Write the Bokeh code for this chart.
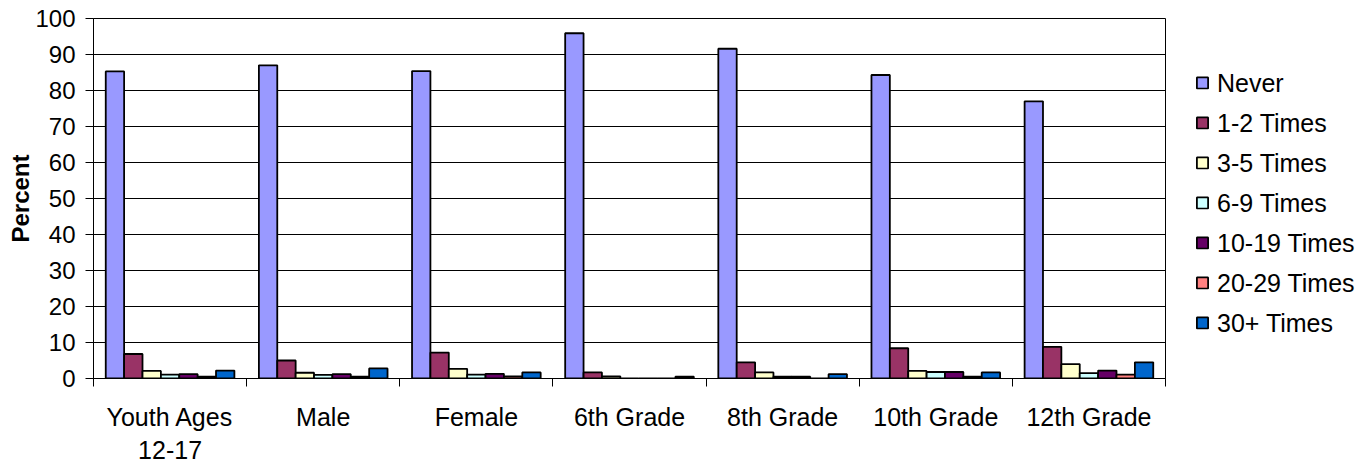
from bokeh.plotting import figure
from bokeh.models import ColumnDataSource, FixedTicker, Legend, LegendItem, Range1d
from bokeh.transform import dodge
from bokeh.embed import file_html
from bokeh.resources import INLINE

categories = ["Youth Ages\n12-17", "Male", "Female", "6th Grade", "8th Grade", "10th Grade", "12th Grade"]
series_names = ["Never", "1-2 Times", "3-5 Times", "6-9 Times", "10-19 Times", "20-29 Times", "30+ Times"]
never = [85.3, 87.0, 85.4, 95.9, 91.6, 84.3, 77.0]
times_1_2 = [6.8, 5.0, 7.2, 1.7, 4.5, 8.4, 8.8]
times_3_5 = [2.1, 1.6, 2.7, 0.6, 1.7, 2.1, 4.0]
times_6_9 = [1.1, 1.0, 1.1, 0.0, 0.5, 1.8, 1.5]
times_10_19 = [1.2, 1.2, 1.3, 0.0, 0.5, 1.8, 2.2]
times_20_29 = [0.5, 0.5, 0.6, 0.0, 0.0, 0.5, 1.1]
times_30_plus = [2.2, 2.8, 1.7, 0.5, 1.2, 1.7, 4.5]
colors = ["#9999FF", "#993366", "#FFFFCC", "#CCFFFF", "#660066", "#FF8080", "#0066CC"]

values = [never, times_1_2, times_3_5, times_6_9, times_10_19, times_20_29, times_30_plus]
keys = ["s%d" % i for i in range(len(series_names))]
centers = [i + 0.5 for i in range(len(categories))]
data = {"x": centers}
for k, v in zip(keys, values):
    data[k] = v
source = ColumnDataSource(data)

FONT = "Liberation Sans"
p = figure(output_backend="svg", toolbar_location=None,
           x_range=Range1d(0, len(categories)), y_range=Range1d(0, 100),
           frame_width=1072, frame_height=360,
           min_border_left=93, min_border_top=18, min_border_bottom=0, min_border_right=0)

bw = 0.12
items = []
for i, (k, name, c) in enumerate(zip(keys, series_names, colors)):
    r = p.vbar(x=dodge("x", (i - 3) * bw, range=p.x_range), top=k, width=bw, bottom=0,
               source=source, fill_color=c, line_color="black", line_width=1.8)
    items.append(LegendItem(label=name, renderers=[r]))

legend = Legend(items=items, location="center_left")
legend.label_text_font = FONT
legend.label_text_font_size = "25px"
legend.label_text_color = "black"
legend.glyph_width = 14
legend.glyph_height = 14
legend.label_height = 30
legend.label_standoff = 8
legend.spacing = 10
legend.title = " "
legend.title_text_font_size = "8px"
legend.title_standoff = 0
legend.border_line_color = None
legend.background_fill_alpha = 0
legend.margin = 30
legend.padding = 0
p.add_layout(legend, "right")

# axes
p.xaxis.ticker = FixedTicker(ticks=centers, minor_ticks=list(range(len(categories) + 1)))
p.xaxis.major_label_overrides = {c: lab for c, lab in zip(centers, categories)}
p.xaxis.major_tick_out = 0
p.xaxis.major_tick_in = 0
p.xaxis.minor_tick_out = 8
p.xaxis.minor_tick_in = 0
p.xaxis.minor_tick_line_color = "black"
p.xaxis.major_label_text_font = FONT
p.xaxis.major_label_text_font_size = "25px"
p.xaxis.major_label_text_color = "black"
p.xaxis.major_label_standoff = 16
p.xaxis.axis_line_color = "black"

p.yaxis.ticker = FixedTicker(ticks=list(range(0, 101, 10)))
p.yaxis.minor_tick_line_color = None
p.yaxis.major_tick_out = 8
p.yaxis.major_tick_in = 0
p.yaxis.major_tick_line_color = "black"
p.yaxis.major_label_text_font = FONT
p.yaxis.major_label_text_font_size = "24px"
p.yaxis.major_label_text_color = "black"
p.yaxis.major_label_standoff = 10
p.yaxis.axis_label = "Percent"
p.yaxis.axis_label_text_font = FONT
p.yaxis.axis_label_text_font_size = "24px"
p.yaxis.axis_label_text_font_style = "bold"
p.yaxis.axis_label_text_color = "black"
p.yaxis.axis_label_standoff = -2
p.yaxis.axis_line_color = "black"

p.xgrid.grid_line_color = None
p.ygrid.grid_line_color = "black"
p.ygrid.grid_line_width = 1
p.outline_line_color = "black"
p.outline_line_width = 1

open("out.html", "w").write(file_html(p, INLINE))
